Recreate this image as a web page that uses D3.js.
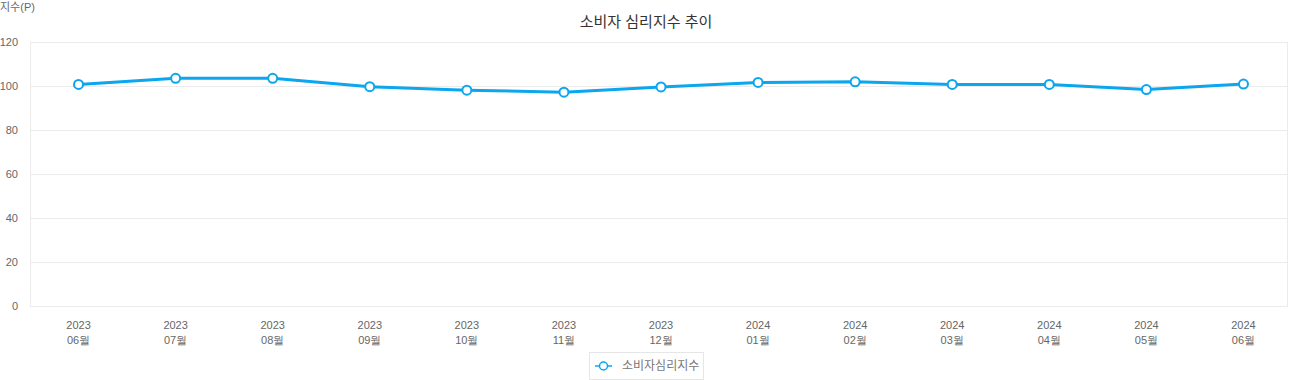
<!DOCTYPE html>
<html><head><meta charset="utf-8">
<script src="https://cdn.jsdelivr.net/npm/d3@7/dist/d3.min.js"></script>
<style>body{margin:0;background:#fff;} svg{display:block;font-family:"Liberation Sans","Noto Sans CJK KR",sans-serif;}</style>
</head><body>
<svg id="c" width="1292" height="380"></svg>
<script>
const years = ["2023","2023","2023","2023","2023","2023","2023","2024","2024","2024","2024","2024","2024"];
const months = ["06월","07월","08월","09월","10월","11월","12월","01월","02월","03월","04월","05월","06월"];
const values = [100.7,103.5,103.5,99.7,98.1,97.2,99.6,101.6,101.9,100.7,100.7,98.4,100.9];
const yTicks = [0,20,40,60,80,100,120];
const seriesName = "소비자심리지수";
const title = "소비자 심리지수 추이";
const yUnit = "지수(P)";
const color = "#0ba6ee";

const svg = d3.select("#c");
const L=30, R=1287, T=42, B=306;
const cats = years.map((y,i)=>i);
const x = d3.scaleBand().domain(cats).range([L,1292]);
const y = d3.scaleLinear().domain([0,120]).range([B,T]);

svg.append("rect").attr("x",L+0.5).attr("y",T+0.5).attr("width",R-L).attr("height",B-T)
  .attr("fill","none").attr("stroke","#ebebeb");
const yAxis = svg.append("g").attr("transform",`translate(${L},0)`)
  .call(d3.axisLeft(y).tickValues(yTicks).tickSize(-(R-L)).tickPadding(12));
yAxis.select(".domain").remove();
yAxis.selectAll(".tick line").attr("stroke","#ebebeb").attr("transform","translate(0.5,0)");
yAxis.selectAll(".tick text").attr("fill","#666").style("font-size","11px");

const xAxis = svg.append("g").attr("transform",`translate(0,${B})`)
  .call(d3.axisBottom(x).tickSize(0).tickFormat(""));
xAxis.select(".domain").remove();
xAxis.selectAll(".tick").each(function(d){
  const t=d3.select(this).append("text").attr("fill","#666").style("font-size","11px").attr("text-anchor","middle");
  t.append("tspan").attr("x",0).attr("y",23).text(years[d]);
  t.append("tspan").attr("x",0).attr("y",38).text(months[d]);
});

const cx = i=>x(i)+x.bandwidth()/2;
svg.append("path").datum(values).attr("fill","none").attr("stroke",color).attr("stroke-width",3)
  .attr("stroke-linejoin","round")
  .attr("d",d3.line().x((d,i)=>cx(i)).y(d=>y(d)));
svg.selectAll("circle.pt").data(values).join("circle").attr("class","pt")
  .attr("cx",(d,i)=>cx(i)).attr("cy",d=>y(d)).attr("r",4.5)
  .attr("fill","#fff").attr("stroke",color).attr("stroke-width",2);

svg.append("text").attr("x",646).attr("y",27).attr("text-anchor","middle")
  .attr("fill","#333").style("font-size","15px").text(title);
svg.append("text").attr("x",0).attr("y",11).attr("fill","#666").style("font-size","11px").text(yUnit);

const lg = svg.append("g");
lg.append("rect").attr("x",589.5).attr("y",352.5).attr("width",114).attr("height",27)
  .attr("fill","#fff").attr("stroke","#e6e6e6");
lg.append("line").attr("x1",595).attr("x2",612).attr("y1",366).attr("y2",366).attr("stroke",color).attr("stroke-width",1.5);
lg.append("circle").attr("cx",603.5).attr("cy",366).attr("r",4).attr("fill","#fff").attr("stroke",color).attr("stroke-width",1.5);
lg.append("text").attr("x",622).attr("y",370).attr("fill","#777").style("font-size","12px").text(seriesName);
</script>
</body></html>
